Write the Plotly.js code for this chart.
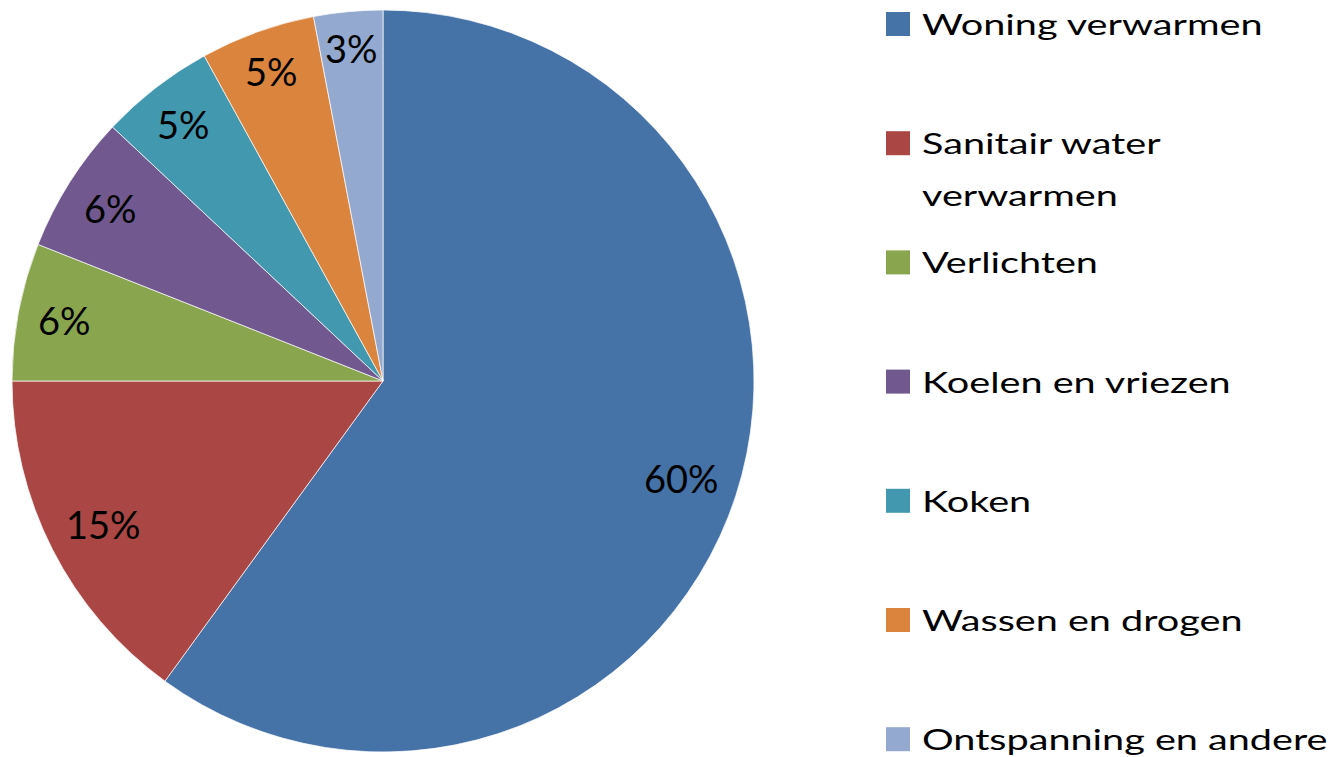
<!DOCTYPE html>
<html>
<head>
<meta charset="utf-8">
<script src="https://cdn.plot.ly/plotly-3.0.1.min.js"></script>
<style>
html,body{margin:0;padding:0;background:#fff;}
#chart{width:1331px;height:757px;}
</style>
</head>
<body>
<div id="chart"></div>
<script>
// ---- data ----
var labels = ["Woning verwarmen", "Sanitair water<br>verwarmen", "Verlichten", "Koelen en vriezen", "Koken", "Wassen en drogen", "Ontspanning en andere"];
var values = [60, 15, 6, 6, 5, 5, 3];
var colors = ["#4572A7", "#AA4643", "#89A54E", "#71588F", "#4198AF", "#DB843D", "#93A9CF"];

// ---- layout geometry (pixels) ----
var W = 1331, H = 757;
var pieLeft = 11, pieRight = 755, pieTop = 10, pieBottom = 752;
var cx = (pieLeft + pieRight) / 2, cy = (pieTop + pieBottom) / 2;
var R = Math.min(pieRight - pieLeft, pieBottom - pieTop) / 2;
var labelMargin = 20;          // gap between label box corner and the rim
var FONT = "Lato, 'Open Sans', sans-serif";
var labelSize = 38, legendSize = 28.5, legendStretch = 1.39;

var total = values.reduce(function (a, b) { return a + b; }, 0);
var annotations = [];
var shapes = [];
var legendAnnIdx = [];

// data labels (percent), placed inside each slice along its bisector,
// pushed out until the label box's outer corner nears the rim
var cum = 0;
values.forEach(function (v, i) {
  var mid = (cum + v / 2) / total * 2 * Math.PI; // clockwise from 12 o'clock
  cum += v;
  var txt = Math.round(v / total * 100) + "%";
  var hw = ((txt.length - 1) * 0.513 * labelSize + 0.79 * labelSize) / 2;
  var hh = 0.355 * labelSize;
  var dx = Math.sin(mid), dy = -Math.cos(mid);
  var kx = dx >= 0 ? hw : -hw, ky = dy >= 0 ? hh : -hh;
  var b = dx * kx + dy * ky, c = kx * kx + ky * ky - Math.pow(R - labelMargin, 2);
  var d = -b + Math.sqrt(b * b - c);
  var px = cx + dx * d, py = cy + dy * d;
  annotations.push({
    xref: "paper", yref: "paper", x: px / W, y: 1 - py / H,
    xanchor: "center", yanchor: "middle", showarrow: false,
    text: txt,
    font: {family: FONT, size: labelSize, color: "#000000"}
  });
});

// legend (drawn from labels / colors)
var legX = 886, legSq = 24, legTextX = 920, legTop = 24, legStep = 119.2, lineStep = 52;
labels.forEach(function (lab, i) {
  var yc = legTop + i * legStep;
  shapes.push({
    type: "rect", xref: "paper", yref: "paper",
    x0: legX / W, x1: (legX + legSq) / W,
    y0: 1 - (yc - legSq / 2) / H, y1: 1 - (yc + legSq / 2) / H,
    fillcolor: colors[i], line: {width: 0}
  });
  lab.split("<br>").forEach(function (line, j) {
    legendAnnIdx.push(annotations.length);
    annotations.push({
      xref: "paper", yref: "paper", x: legTextX / W, y: 1 - (yc + j * lineStep) / H,
      xanchor: "left", yanchor: "middle", showarrow: false, text: line,
      font: {family: FONT, size: legendSize, color: "#000000"}
    });
  });
});

var trace = {
  type: "pie",
  labels: labels,
  values: values,
  sort: false,
  direction: "clockwise",
  rotation: 0,
  textinfo: "none",
  hoverinfo: "label+percent",
  showlegend: false,
  marker: {colors: colors, line: {color: "rgba(255,255,255,0.7)", width: 1}},
  domain: {x: [pieLeft / W, pieRight / W], y: [1 - pieBottom / H, 1 - pieTop / H]}
};

var layout = {
  width: W, height: H,
  margin: {l: 0, r: 0, t: 0, b: 0, pad: 0},
  paper_bgcolor: "#ffffff",
  plot_bgcolor: "#ffffff",
  showlegend: false,
  font: {family: FONT},
  annotations: annotations,
  shapes: shapes
};

Plotly.newPlot("chart", [trace], layout, {displayModeBar: false, staticPlot: true}).then(function (gd) {
  // legend text in the reference is drawn horizontally widened
  var anns = gd.querySelectorAll("g.annotation");
  legendAnnIdx.forEach(function (idx) {
    var g = anns[idx];
    if (!g) return;
    var t = g.querySelector("text.annotation-text");
    if (!t) return;
    var bb = t.getBBox();
    var x0 = bb.x;
    t.setAttribute("transform", "translate(" + x0 + ",0) scale(" + legendStretch + ",1) translate(" + (-x0) + ",0)");
  });
});
</script>
</body>
</html>
